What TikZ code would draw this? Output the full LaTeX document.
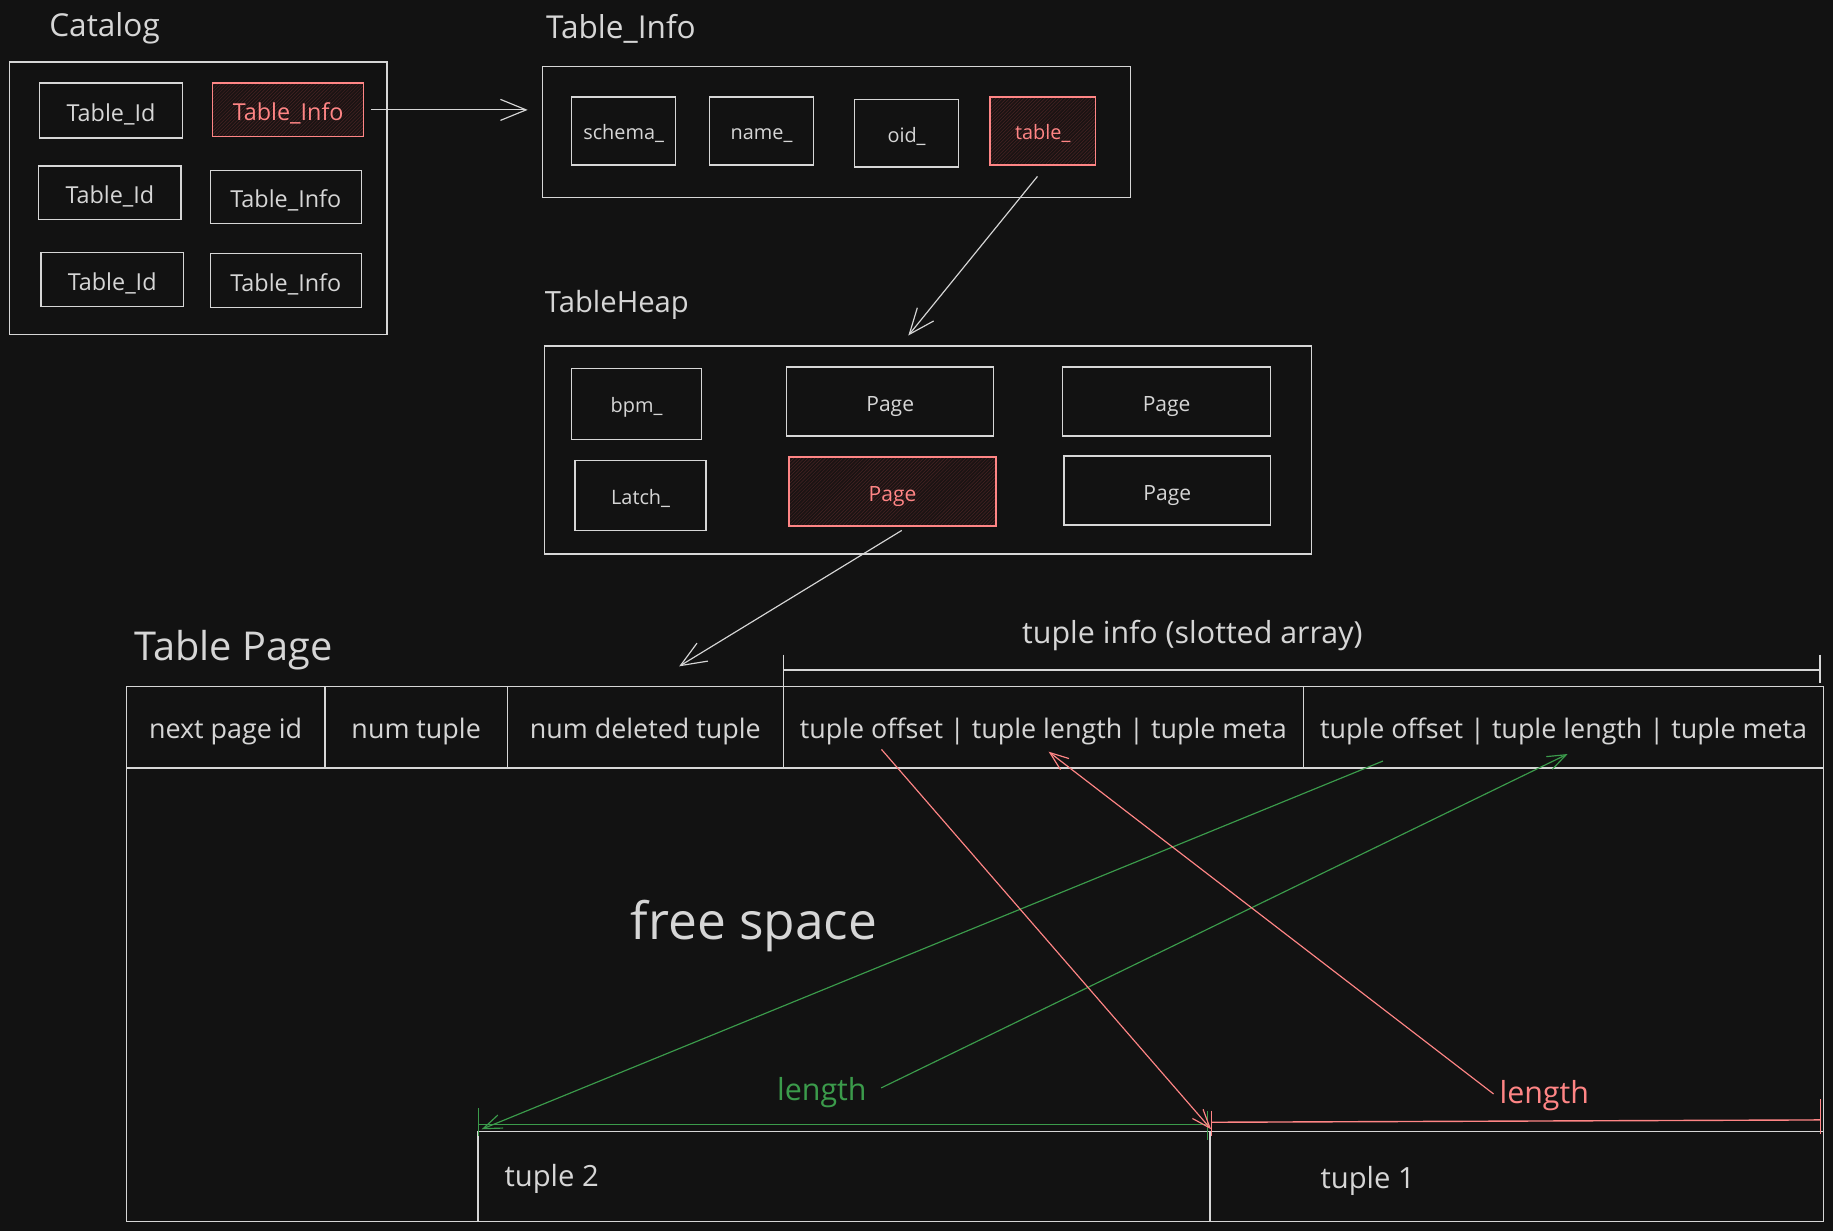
\documentclass[tikz,border=0pt]{standalone}
\usepackage{fontspec}
\setmainfont{Open Sans}
\usetikzlibrary{arrows.meta, positioning, patterns}

\definecolor{bg}{HTML}{121212}
\definecolor{ink}{HTML}{D6D6D6}
\definecolor{hot}{HTML}{FF8585}
\definecolor{hotfill}{HTML}{1B1313}
\definecolor{hothatch}{HTML}{472424}
\definecolor{grn}{HTML}{3B9B4B}

\newcommand{\fsz}[1]{\fontsize{#1}{#1}\selectfont}

\tikzstyle{box} = [draw=ink, line width=1.2pt, rectangle, inner sep=0pt, text=ink, text depth=0pt]
\tikzstyle{hotbox} = [box, draw=hot, text=hot, preaction={fill=hotfill}, pattern=north east lines, pattern color=hothatch]
\tikzstyle{fsmall} = [font=\fsz{17}, text height=15.5pt]
\tikzstyle{fpage} = [font=\fsz{18}, text height=16.5pt]
\tikzstyle{fcat} = [font=\fsz{20}, text height=18.5pt]
\tikzstyle{fhead} = [font=\fsz{23}, text height=19.5pt]
\tikzstyle{title} = [anchor=west, text=ink, inner sep=0pt]
\tikzstyle{arrow} = [line width=1pt, draw=ink, -{Straight Barb[length=22pt,width=18pt]}]
\tikzstyle{garrow} = [line width=1pt, draw=grn, -{Straight Barb[length=16pt,width=12pt]}]
\tikzstyle{rarrow} = [line width=1pt, draw=hot, -{Straight Barb[length=16pt,width=12pt]}]

\begin{document}
\begin{tikzpicture}[x=1pt, y=-1pt, text centered]
        \fill[bg] (0,0) rectangle (1568,1053);
        \useasboundingbox (0,0) rectangle (1568,1053);

        % catalog
        \node (catT) [title, font=\fsz{27}] at (42,24) {Catalog};
        \node (cat) [box, minimum width=323, minimum height=233] at (169.5,169.5) {};
        \node (tid1) [box, fcat, minimum width=122, minimum height=47] at (95,94.5) {Table\_Id};
        \node (tid2) [box, fcat, minimum width=122, minimum height=46] at (94,165) {Table\_Id};
        \node (tid3) [box, fcat, minimum width=122, minimum height=46] at (96,239) {Table\_Id};
        \node (tinfo1) [hotbox, fcat, minimum width=129, minimum height=46] at (246.5,94) {Table\_Info};
        \node (tinfo2) [box, fcat, minimum width=129, minimum height=45] at (244.5,168.5) {Table\_Info};
        \node (tinfo3) [box, fcat, minimum width=129, minimum height=46] at (244.5,240) {Table\_Info};

        % table info
        \node (infoT) [title, font=\fsz{27}] at (467,25) {Table\_Info};
        \node (info) [box, minimum width=503, minimum height=112] at (715.5,113) {};
        \node (schema) [box, fsmall, minimum width=89, minimum height=58] at (533.5,112) {schema\_};
        \node (name) [box, fsmall, minimum width=89, minimum height=58] at (651.5,112) {name\_};
        \node (oid) [box, fsmall, minimum width=89, minimum height=58] at (775.5,114) {oid\_};
        \node (tbl) [hotbox, fsmall, minimum width=90, minimum height=58] at (892,112) {table\_};

        % table heap
        \node (heapT) [title, font=\fsz{25}] at (466,261) {TableHeap};
        \node (heap) [box, minimum width=656, minimum height=178] at (794,385) {};
        \node (bpm) [box, fsmall, minimum width=111, minimum height=61] at (544.5,345.5) {bpm\_};
        \node (latch) [box, fsmall, minimum width=112, minimum height=60] at (548,424) {Latch\_};
        \node (page1) [box, fpage, minimum width=177, minimum height=59] at (761.5,343.5) {Page};
        \node (page2) [box, fpage, minimum width=178, minimum height=59] at (998,343.5) {Page};
        \node (page3) [hotbox, fpage, minimum width=177, minimum height=59] at (763.5,420.5) {Page};
        \node (page4) [box, fpage, minimum width=177, minimum height=59] at (998.5,419.5) {Page};

        \coordinate (heapin) at (777,287);
        \coordinate (pagein) at (581,570);
        \draw[arrow, shorten <=6pt, shorten >=12pt] (tinfo1.east) -- (tinfo1.east -| info.west);
        \draw[arrow, shorten <=12pt] ([xshift=3pt]tbl.south) -- (heapin);
        \draw[arrow, shorten <=6pt] ([xshift=13pt]page3.south) -- (pagein);

        % table page
        \node (pageT) [title, font=\fsz{34}] at (115,556) {Table Page};
        \node (slotT) [text=ink, font=\fsz{26}] at (1020,544) {tuple info (slotted array)};
        \node (tpage) [box, minimum width=1452, minimum height=458] at (834,816) {};
        \node (c1) [box, fhead, minimum width=170, minimum height=70] at (193,622) {next page id};
        \node (c2) [box, fhead, minimum width=156, minimum height=70] at (356,622) {num tuple};
        \node (c3) [box, fhead, minimum width=236, minimum height=70] at (552,622) {num deleted tuple};
        \node (c4) [box, fhead, minimum width=445, minimum height=70] at (892.5,622) {tuple offset | tuple length | tuple meta};
        \node (c5) [box, fhead, minimum width=445, minimum height=70] at (1337.5,622) {tuple offset | tuple length | tuple meta};
        \node (free) [text=ink, font=\fsz{44}] at (645,792) {free space};
        \node (tup2) [box, minimum width=626, minimum height=77] at (722,1006.5) {};
        \node (tup1) [box, minimum width=525, minimum height=77] at (1297.5,1006.5) {};
        \node (tup2T) [title, font=\fsz{25}] at ([xshift=23pt,yshift=-2pt]tup2.west) {tuple 2};
        \node (tup1T) [title, font=\fsz{25}] at ([xshift=95pt,yshift=-4pt]tup1.west) {tuple 1};

        % slotted array span
        \coordinate (bl) at (670,573);
        \coordinate (br) at (1557,573);
        \draw[ink, line width=1.2pt] (bl) -- (br);
        \draw[ink, line width=1.2pt] ([yshift=13pt]bl) -- (bl |- c4.north);
        \draw[ink, line width=1.2pt] ([yshift=13pt]br) -- ([yshift=-11pt]br);

        % lengths
        \node (lenG) [text=grn, font=\fsz{26}] at (703,935) {length};
        \node (lenR) [text=hot, font=\fsz{26}] at (1321,937) {length};
        \coordinate (gl) at (409,962);
        \coordinate (gr) at (1033,962);
        \coordinate (rl) at (1036,960);
        \coordinate (rr) at (1557,958);
        \draw[grn, line width=1.2pt] (gl) -- (gr);
        \draw[grn, line width=1pt] ([yshift=14pt]gl) -- ([yshift=-10pt]gl);
        \draw[grn, line width=1pt] ([yshift=12pt]gr) -- ([yshift=-13pt]gr);
        \draw[hot, line width=1.2pt] (rl) -- (rr);
        \draw[hot, line width=1pt] ([yshift=10pt]rl) -- ([yshift=-12pt]rl);
        \draw[hot, line width=1pt] ([yshift=18pt]rr) -- ([yshift=-12pt]rr);

        \coordinate (off1) at (754,641);
        \coordinate (len1) at (897,643);
        \coordinate (off2) at (1183,651);
        \coordinate (len2) at (1341,645);
        \draw[garrow] (off2) -- ([shift={(3,4)}]gl);
        \draw[garrow, shorten <=10pt] (lenG.east) -- (len2);
        \draw[rarrow] (off1) -- ([yshift=-6pt]rl);
        \draw[rarrow, shorten <=2pt] (lenR.west) -- (len1);
    \end{tikzpicture}
\end{document}
